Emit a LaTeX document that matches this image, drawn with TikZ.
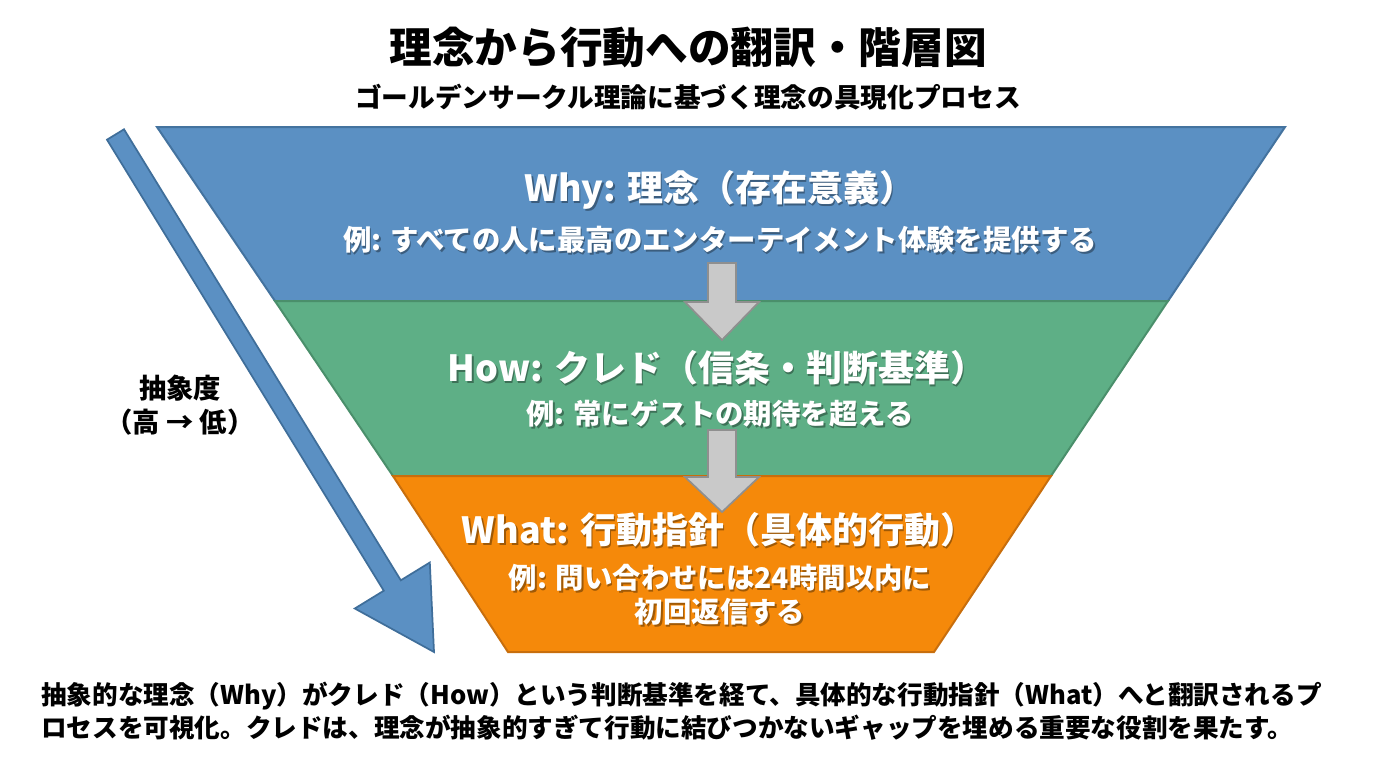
\documentclass[tikz,border=0pt]{standalone}
\usepackage{fontspec}
\setmainfont{Noto Sans CJK JP}
\definecolor{fblue}{HTML}{5B90C3}
\definecolor{eblue}{HTML}{44739F}
\definecolor{fgreen}{HTML}{5EAF86}
\definecolor{egreen}{HTML}{4A8F6B}
\definecolor{forange}{HTML}{F5890A}
\definecolor{eorange}{HTML}{C86E0C}
\definecolor{fgray}{HTML}{C9C9C9}
\definecolor{egray}{HTML}{8F8F8F}
\definecolor{ablue}{HTML}{3F6E9A}
\newcommand\fsz[1]{\fontsize{#1}{#1}\selectfont\bfseries}
\newcommand\shnode[5]{%
  \node[shad,font=#4] (#1s) at (#2+1.6,#3+1.6) {#5};
  \node[wtxt,font=#4] (#1) at (#2,#3) {#5};}
\begin{document}
\begin{tikzpicture}[x=0.75pt,y=-0.75pt,
  band/.style={line width=1.5pt, line join=miter},
  grayarrow/.style={fill=fgray, draw=egray, line width=1.3pt},
  shad/.style={inner sep=0pt, text=black, text opacity=0.35},
  wtxt/.style={inner sep=0pt, text=white},
  btxt/.style={inner sep=0pt, text=black}]
\useasboundingbox (0,0) rectangle (1376,768);
\fill[white] (0,0) rectangle (1376,768);
% titles
\node[btxt,font=\fsz{32}] (title) at (688,47) {理念から行動への翻訳・階層図};
\node[btxt,font=\fsz{20}] (subtitle) at (688,97) {ゴールデンサークル理論に基づく理念の具現化プロセス};
% funnel bands
\draw[band, fill=fblue, draw=eblue] (157,127) -- (1285,127) -- (1168,301) -- (275,301) -- cycle;
\draw[band, fill=fgreen, draw=egreen] (275,301) -- (1168,301) -- (1051,476) -- (393,476) -- cycle;
\draw[band, fill=forange, draw=eorange] (393,476) -- (1051,476) -- (934,652) -- (508,652) -- cycle;
% gray arrows between levels
\draw[grayarrow] (708,263) -- (736,263) -- (736,302) -- (759,302) -- (722,340) -- (685,302) -- (708,302) -- cycle;
\draw[grayarrow] (708,430) -- (736,430) -- (736,477) -- (759,477) -- (722,512) -- (685,477) -- (708,477) -- cycle;
% big abstraction arrow
\draw[fill=fblue, draw=ablue, line width=1.3pt, line join=miter]
  (124.0,129.3) -- (400.8,580.3) -- (429.8,562.5) -- (434,652) -- (354.8,608.5) -- (383.8,590.7) -- (107.0,139.7) -- cycle;
\node[btxt,font=\fsz{20.5}] (abs1) at (180,388) {抽象度};
\node[btxt,font=\fsz{20.5}] (abs2) at (180,422) {（高 → 低）};
% level texts
\shnode{why}{720}{190}{\fsz{27}}{Why: 理念（存在意義）}
\shnode{whyex}{720}{240}{\fsz{21.3}}{例: すべての人に最高のエンターテイメント体験を提供する}
\shnode{how}{717}{368}{\fsz{27}}{How: クレド（信条・判断基準）}
\shnode{howex}{720}{414}{\fsz{21.3}}{例: 常にゲストの期待を超える}
\shnode{what}{719}{530}{\fsz{27}}{What: 行動指針（具体的行動）}
\shnode{whatex}{720}{578}{\fsz{21.3}}{例: 問い合わせには24時間以内に}
\shnode{whatex2}{720}{612}{\fsz{21.3}}{初回返信する}
% caption
\node[btxt,font=\fsz{19.2},anchor=west] (cap1) at (41,696) {抽象的な理念（Why）がクレド（How）という判断基準を経て、具体的な行動指針（What）へと翻訳されるプ};
\node[btxt,font=\fsz{19.2},anchor=west] (cap2) at (41,728) {ロセスを可視化。クレドは、理念が抽象的すぎて行動に結びつかないギャップを埋める重要な役割を果たす。};
\end{tikzpicture}
\end{document}
